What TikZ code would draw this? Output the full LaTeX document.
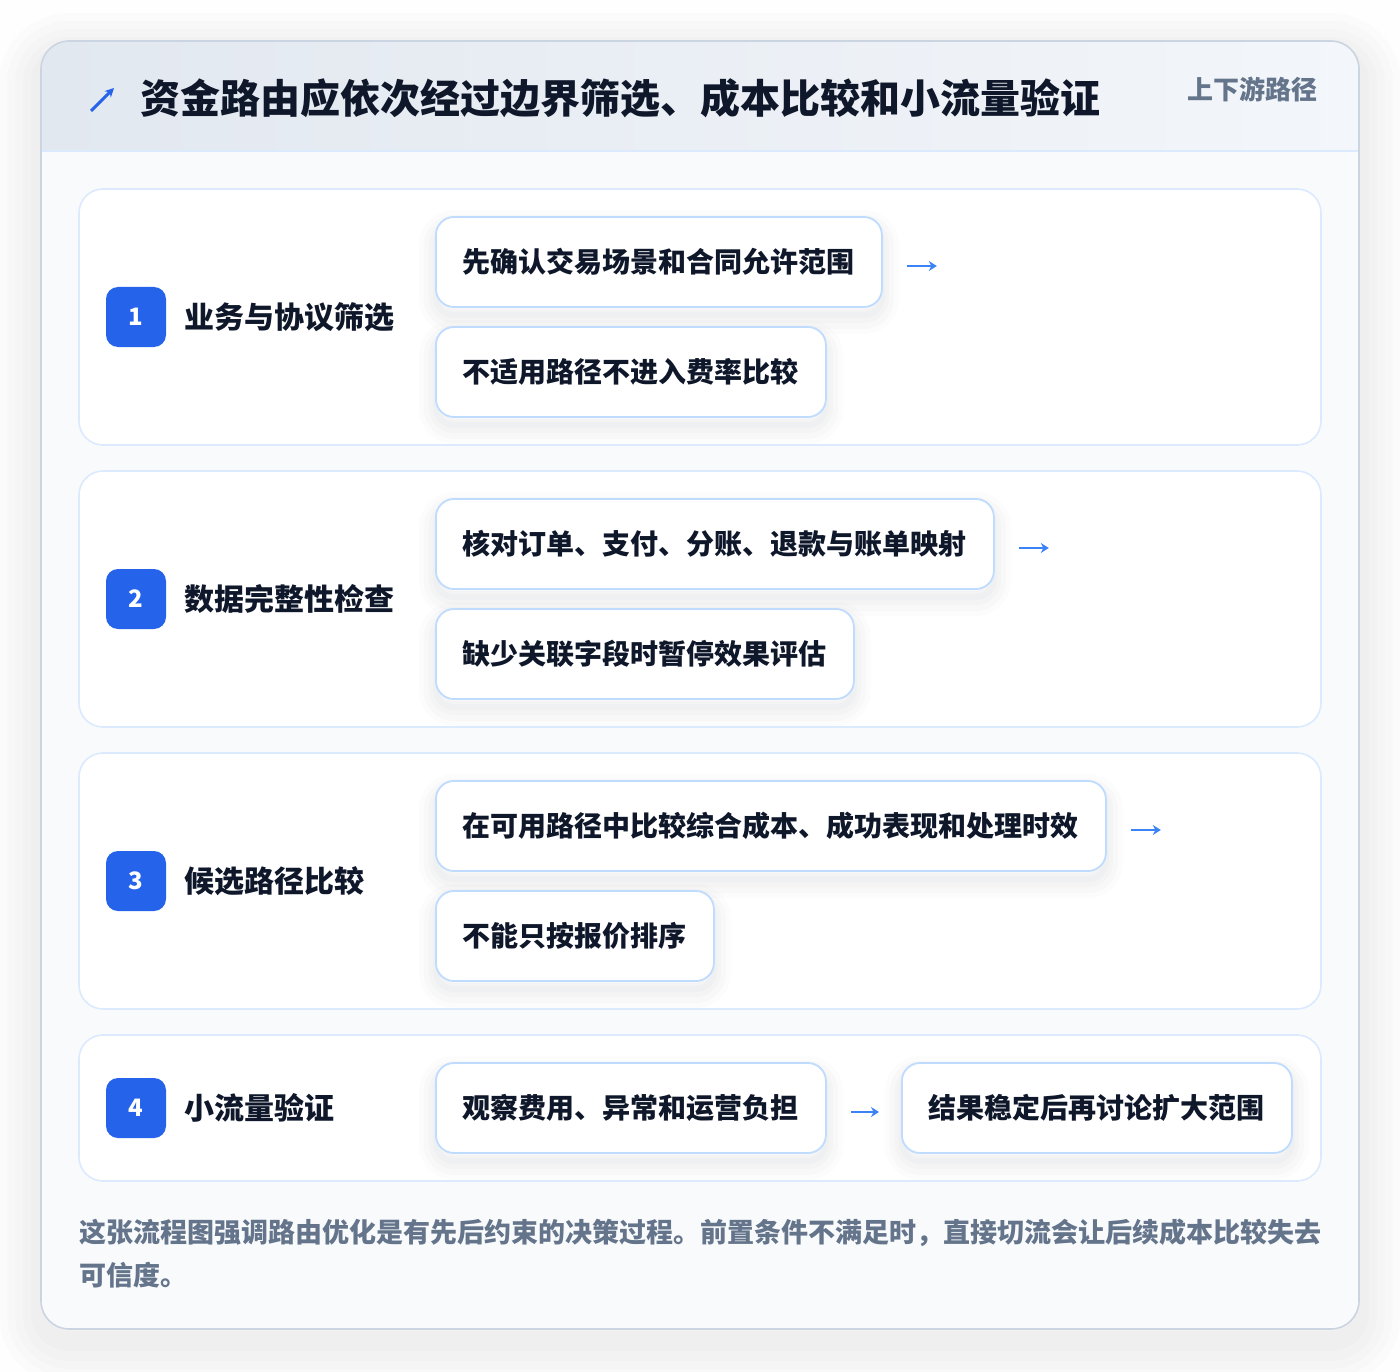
\documentclass[tikz,border=0pt]{standalone}
\usepackage{fontspec}
\setmainfont{Noto Sans CJK SC}
\usetikzlibrary{arrows.meta}
\definecolor{pagebg}{HTML}{FEFEFE}
\definecolor{cardbg}{HTML}{F8FAFC}
\definecolor{cardline}{HTML}{CBD5E1}
\definecolor{headL}{HTML}{E2E8F0}
\definecolor{headR}{HTML}{F3F6FA}
\definecolor{headline}{HTML}{DBEAFE}
\definecolor{rowline}{HTML}{DBEAFE}
\definecolor{boxline}{HTML}{BFDBFE}
\definecolor{badgeblue}{HTML}{2563EB}
\definecolor{arrowblue}{HTML}{3B82F6}
\definecolor{ink}{HTML}{0F172A}
\definecolor{muted}{HTML}{64748B}
\definecolor{shade}{HTML}{1E293B}
\begin{document}
\begin{tikzpicture}[x=1pt,y=-1pt,
  cardshadow/.style={
    preaction={draw=shade, draw opacity=0.010, fill=none, line width=84pt, transform canvas={yshift=-14pt}},
    preaction={draw=shade, draw opacity=0.010, fill=none, line width=68pt, transform canvas={yshift=-14pt}},
    preaction={draw=shade, draw opacity=0.010, fill=none, line width=52pt, transform canvas={yshift=-14pt}},
    preaction={draw=shade, draw opacity=0.012, fill=none, line width=36pt, transform canvas={yshift=-14pt}},
    preaction={draw=shade, draw opacity=0.012, fill=none, line width=20pt, transform canvas={yshift=-12pt}}},
  boxshadow/.style={
    preaction={draw=shade, draw opacity=0.012, fill=none, line width=34pt, transform canvas={yshift=-10pt}},
    preaction={draw=shade, draw opacity=0.014, fill=none, line width=24pt, transform canvas={yshift=-10pt}},
    preaction={draw=shade, draw opacity=0.016, fill=none, line width=14pt, transform canvas={yshift=-9pt}},
    preaction={draw=shade, draw opacity=0.018, fill=none, line width=6pt, transform canvas={yshift=-8pt}}},
  rowcard/.style={draw=rowline, line width=1.6pt, fill=white, rounded corners=24pt},
  stepbox/.style={boxshadow, draw=boxline, line width=1.8pt, fill=white, rounded corners=18pt,
    minimum height=90pt, inner xsep=27pt, inner ysep=0pt, anchor=west,
    font=\fontsize{28}{32}\selectfont\bfseries, text=ink},
  badge/.style={fill=badgeblue, rounded corners=12pt, minimum width=60pt, minimum height=60pt,
    inner sep=0pt, text=white, font=\fontsize{24}{26}\selectfont\bfseries},
  steplabel/.style={anchor=west, inner sep=0pt, text=ink, font=\fontsize{30}{34}\selectfont\bfseries},
  arr/.style={draw=arrowblue, line width=2.4pt, -{Stealth[length=8pt,width=10pt]}},
  foot/.style={anchor=west, inner sep=0pt, text=muted, font=\fontsize{27}{30}\selectfont\bfseries}]
\useasboundingbox (0,0) rectangle (1400,1372);
\fill[pagebg] (0,0) rectangle (1400,1372);
% card
\path[cardshadow, fill=cardbg, rounded corners=28pt] (41,41) rectangle (1359,1329);
\begin{scope}
  \clip[rounded corners=28pt] (41,41) rectangle (1359,1329);
  \shade[left color=headL, right color=headR] (41,41) rectangle (1359,151);
\end{scope}
\draw[headline, line width=1.6pt] (41,151) -- (1359,151);
\draw[cardline, line width=1.6pt, rounded corners=28pt] (41,41) rectangle (1359,1329);
% header
\draw[badgeblue, line width=3pt, -{Stealth[length=9pt,width=9pt]}] (91,111) -- (114,88);
\node[anchor=west, inner sep=0pt, text=ink, font=\fontsize{40}{44}\selectfont\bfseries] (title) at (140,98)
  {资金路由应依次经过边界筛选、成本比较和小流量验证};
\node[anchor=east, inner sep=0pt, text=muted, font=\fontsize{26}{30}\selectfont\bfseries] (sub) at (1318,89) {上下游路径};
% rows
\draw[rowcard] (79,189) rectangle (1321,445);
\draw[rowcard] (79,471) rectangle (1321,727);
\draw[rowcard] (79,753) rectangle (1321,1009);
\draw[rowcard] (79,1035) rectangle (1321,1181);
% row 1
\node[badge] (n1) at (136,317) {1};
\node[steplabel] (l1) at (184,317) {业务与协议筛选};
\node[stepbox] (b11) at (435,262) {先确认交易场景和合同允许范围};
\node[stepbox] (b12) at (435,372) {不适用路径不进入费率比较};
\coordinate (e1) at ([xshift=54pt,yshift=-4pt]b11.east);
\draw[arr] ([xshift=24pt,yshift=-4pt]b11.east) -- (e1);
% row 2
\node[badge] (n2) at (136,599) {2};
\node[steplabel] (l2) at (184,599) {数据完整性检查};
\node[stepbox] (b21) at (435,544) {核对订单、支付、分账、退款与账单映射};
\node[stepbox] (b22) at (435,654) {缺少关联字段时暂停效果评估};
\coordinate (e2) at ([xshift=54pt,yshift=-4pt]b21.east);
\draw[arr] ([xshift=24pt,yshift=-4pt]b21.east) -- (e2);
% row 3
\node[badge] (n3) at (136,881) {3};
\node[steplabel] (l3) at (184,881) {候选路径比较};
\node[stepbox] (b31) at (435,826) {在可用路径中比较综合成本、成功表现和处理时效};
\node[stepbox] (b32) at (435,936) {不能只按报价排序};
\coordinate (e3) at ([xshift=54pt,yshift=-4pt]b31.east);
\draw[arr] ([xshift=24pt,yshift=-4pt]b31.east) -- (e3);
% row 4
\node[badge] (n4) at (136,1108) {4};
\node[steplabel] (l4) at (184,1108) {小流量验证};
\node[stepbox] (b41) at (435,1108) {观察费用、异常和运营负担};
\node[stepbox] (b42) at (901,1108) {结果稳定后再讨论扩大范围};
\draw[arr] ([xshift=24pt,yshift=-4pt]b41.east) -- ([xshift=-22pt,yshift=-4pt]b42.west);
% footer
\node[foot] (f1) at (79,1233) {这张流程图强调路由优化是有先后约束的决策过程。前置条件不满足时，直接切流会让后续成本比较失去};
\node[foot] (f2) at (79,1275) {可信度。};
\end{tikzpicture}
\end{document}
